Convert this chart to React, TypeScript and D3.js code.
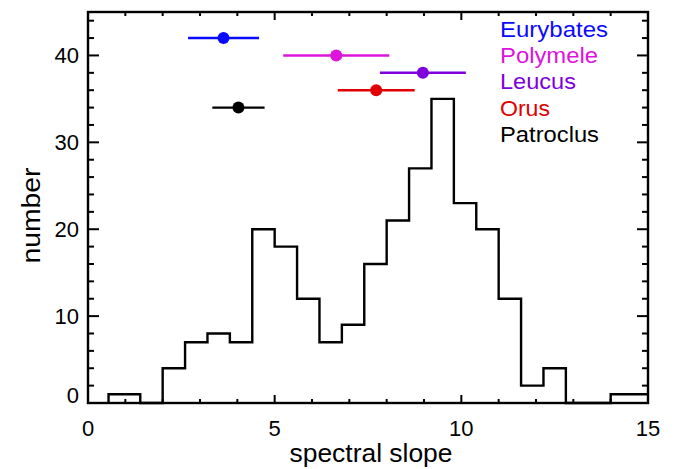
import React from "react";
import * as d3 from "d3";

// histogram of spectral slopes
const binEdges = [0.55, 1.4, 2.0, 2.6, 3.2, 3.8, 4.4, 5.0, 5.6, 6.2, 6.8, 7.4, 8.0, 8.6, 9.2, 9.8, 10.4, 11.0, 11.6, 12.2, 12.8, 13.4, 14.0, 15.0];
const binCounts = [1, 0, 4, 7, 8, 7, 20, 18, 12, 7, 9, 16, 21, 27, 35, 23, 20, 12, 2, 4, 0, 0, 1];

// family means with error bars
const families = ["Eurybates", "Polymele", "Leucus", "Orus", "Patroclus"];
const familyMean = [3.63, 6.65, 8.97, 7.72, 4.03];
const familyErr = [0.95, 1.42, 1.15, 1.03, 0.7];
const familyY = [42, 40, 38, 36, 34];
const familyColor = ["#0a0aff", "#dc14dc", "#7f00dc", "#e00000", "#000000"];

const xTicks = [0, 5, 10, 15];
const yTicks = [0, 10, 20, 30, 40];

const width = 678;
const height = 469;
const left = 88, right = 648, top = 12, bottom = 403;
const font = "'Liberation Sans', Arial, Helvetica, sans-serif";
const legendWidths = [108, 98, 76, 50, 99];

export default function App() {
  const x = d3.scaleLinear().domain([0, 15]).range([left, right]);
  const y = d3.scaleLinear().domain([0, 45]).range([bottom, top]);

  const pts: [number, number][] = [[binEdges[0], 0]];
  binCounts.forEach((c, i) => {
    pts.push([binEdges[i], c]);
    pts.push([binEdges[i + 1], c]);
  });
  const histPath = d3.line<[number, number]>().x(d => x(d[0])).y(d => y(d[1]))(pts);

  const xMinor = d3.range(0, 16, 1);
  const yMinor = d3.range(0, 46, 2);

  return (
    <svg width={width} height={height} style={{ position: "absolute", left: 0, top: 0, background: "#fff" }} fontFamily={font}>
      {/* histogram */}
      <path d={histPath || ""} fill="none" stroke="#000" strokeWidth={2.4} strokeLinejoin="miter" />

      {/* error bars */}
      {families.map((f, i) => (
        <g key={f}>
          <line x1={x(familyMean[i] - familyErr[i])} x2={x(familyMean[i] + familyErr[i])} y1={y(familyY[i])} y2={y(familyY[i])} stroke={familyColor[i]} strokeWidth={2.4} />
          <circle cx={x(familyMean[i])} cy={y(familyY[i])} r={6} fill={familyColor[i]} />
        </g>
      ))}

      {/* legend */}
      {families.map((f, i) => (
        <text key={f} x={500} y={37 + i * 26.2} fontSize={22} fill={familyColor[i]} textLength={legendWidths[i]} lengthAdjust="spacingAndGlyphs">{f}</text>
      ))}

      {/* frame */}
      <rect x={left} y={top} width={right - left} height={bottom - top} fill="none" stroke="#000" strokeWidth={2.4} />

      {/* x ticks bottom and top */}
      {xMinor.map(v => {
        const len = v % 5 === 0 ? 8 : 4;
        return (
          <g key={"xt" + v} stroke="#000" strokeWidth={2}>
            <line x1={x(v)} x2={x(v)} y1={bottom} y2={bottom - len} />
            <line x1={x(v)} x2={x(v)} y1={top} y2={top + len} />
          </g>
        );
      })}
      {/* y ticks left and right */}
      {yMinor.map(v => {
        const len = v % 10 === 0 ? 11 : 6;
        return (
          <g key={"yt" + v} stroke="#000" strokeWidth={2}>
            <line x1={left} x2={left + len} y1={y(v)} y2={y(v)} />
            <line x1={right} x2={right - len} y1={y(v)} y2={y(v)} />
          </g>
        );
      })}

      {xTicks.map(v => (
        <text key={"xl" + v} x={x(v)} y={436} fontSize={22} textAnchor="middle">{v}</text>
      ))}
      {yTicks.map(v => (
        <text key={"yl" + v} x={79} y={y(v) + (v === 0 ? -8 : 0)} dy="0.36em" fontSize={22} textAnchor="end">{v}</text>
      ))}

      <text x={371} y={462} fontSize={25} textAnchor="middle" textLength={163} lengthAdjust="spacingAndGlyphs">spectral slope</text>
      <text transform={`translate(40,${(top + bottom) / 2 + 8}) rotate(-90)`} fontSize={25} textAnchor="middle" textLength={96} lengthAdjust="spacingAndGlyphs">number</text>
    </svg>
  );
}
